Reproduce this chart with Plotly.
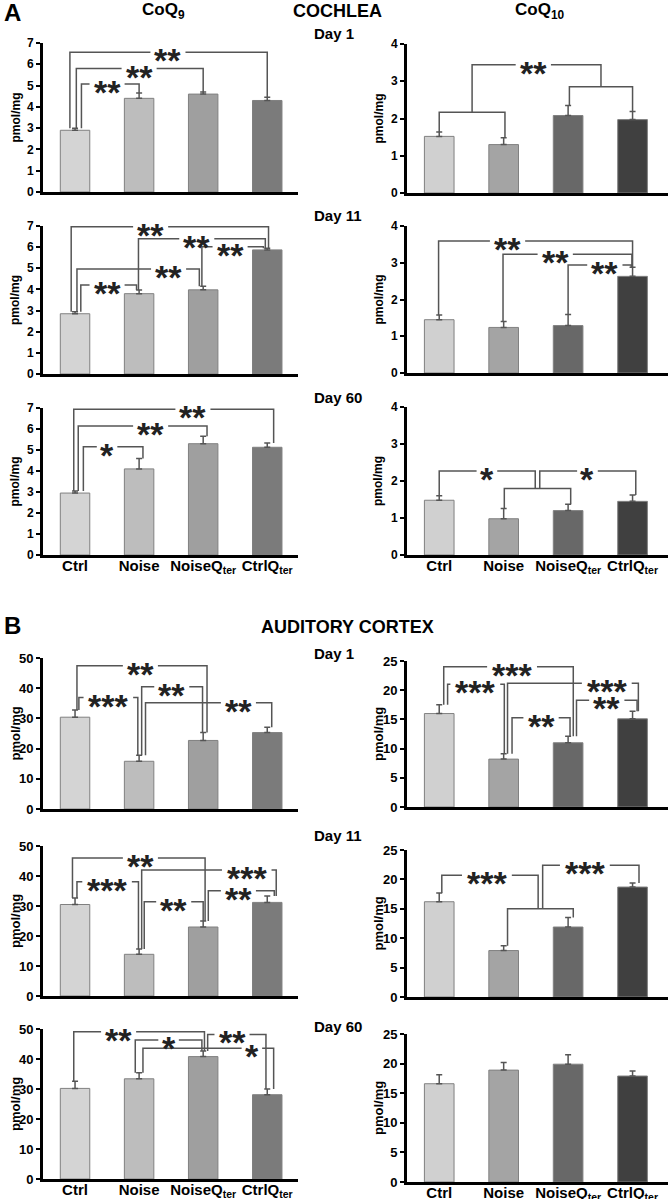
import plotly.graph_objects as go

W, H = 670, 1199

groups = ["Ctrl", "Noise", "NoiseQ<sub>ter</sub>", "CtrlQ<sub>ter</sub>"]
days = ["Day 1", "Day 11", "Day 60"]

# CoQ9 / CoQ10 (pmol/mg), bar height and upper SEM
coq9_cochlea_d1 = [2.9, 4.4, 4.6, 4.3]
coq9_cochlea_d1_err = [0.1, 0.25, 0.1, 0.15]
coq9_cochlea_d11 = [2.85, 3.8, 3.98, 5.87]
coq9_cochlea_d11_err = [0.1, 0.17, 0.17, 0.08]
coq9_cochlea_d60 = [2.95, 4.1, 5.3, 5.13]
coq9_cochlea_d60_err = [0.1, 0.5, 0.35, 0.2]

coq10_cochlea_d1 = [1.52, 1.3, 2.08, 1.97]
coq10_cochlea_d1_err = [0.12, 0.18, 0.27, 0.22]
coq10_cochlea_d11 = [1.45, 1.24, 1.29, 2.63]
coq10_cochlea_d11_err = [0.13, 0.16, 0.3, 0.25]
coq10_cochlea_d60 = [1.48, 0.98, 1.2, 1.45]
coq10_cochlea_d60_err = [0.12, 0.28, 0.17, 0.17]

coq9_cortex_d1 = [30.4, 15.8, 22.7, 25.3]
coq9_cortex_d1_err = [2.4, 2.0, 2.6, 1.8]
coq9_cortex_d11 = [30.5, 13.9, 23.0, 31.2]
coq9_cortex_d11_err = [2.2, 1.8, 2.0, 2.1]
coq9_cortex_d60 = [30.2, 33.4, 40.8, 28.1]
coq9_cortex_d60_err = [2.4, 2.0, 1.9, 1.9]

coq10_cortex_d1 = [16.0, 8.2, 11.0, 15.1]
coq10_cortex_d1_err = [1.5, 0.9, 1.1, 1.3]
coq10_cortex_d11 = [16.2, 7.9, 11.9, 18.7]
coq10_cortex_d11_err = [1.5, 0.8, 1.6, 0.7]
coq10_cortex_d60 = [16.6, 18.9, 19.9, 17.9]
coq10_cortex_d60_err = [1.5, 1.3, 1.6, 0.85]

# significance brackets: (left leg, right leg, level, stars, stars x)
# a leg is a group position, or (k, dx) = rising from bracket k of the same panel
sig_coq9_cochlea_d1 = [(-0.08, 3.0, 6.56, "**", 1.45), (0.02, 2.0, 5.8, "**", 1.0),
                       (0.1, 1.0, 5.07, "**", 0.5)]
sig_coq9_cochlea_d11 = [(-0.06, 3.02, 6.96, "**", 1.18), (0.99, 2.97, 6.4, "**", 1.9),
                        (1.98, 2.94, 6.02, "**", 2.42), (0.03, 1.94, 4.97, "**", 1.46),
                        (0.09, 0.96, 4.21, "**", 0.5)]
sig_coq9_cochlea_d60 = [(-0.02, 3.1, 6.94, "**", 1.84), (0.05, 2.06, 6.14, "**", 1.18),
                        (0.13, 1.06, 5.16, "*", 0.5)]
sig_coq10_cochlea_d1 = [(0.0, 1.02, 2.17, "", None), (2.02, 3.0, 2.85, "", None),
                        ((0, 0), (1, 0), 3.44, "**", 1.46)]
sig_coq10_cochlea_d11 = [(-0.01, 3.0, 3.59, "**", 1.06), (0.99, 2.99, 3.23, "**", 1.8),
                         (2.0, 2.98, 2.94, "**", 2.57)]
sig_coq10_cochlea_d60 = [(1.01, 2.04, 1.8, "", None), (0.0, (0, -0.035), 2.27, "*", 0.74),
                         ((0, 0.035), 3.05, 2.27, "*", 2.3)]
sig_coq9_cortex_d1 = [(0.03, 2.06, 47.4, "**", 1.02), (1.04, 1.99, 40.5, "**", 1.51),
                      (0.06, 0.98, 36.9, "***", 0.52), (1.1, 3.07, 35.2, "**", 2.55)]
sig_coq9_cortex_d11 = [(-0.04, 2.03, 46.0, "**", 1.02), (1.04, 3.14, 42.0, "***", 2.68),
                       (0.03, 0.99, 38.1, "***", 0.5), (2.08, 3.11, 35.1, "**", 2.55),
                       (1.08, 2.0, 31.4, "**", 1.54)]
sig_coq9_cortex_d60 = [(-0.02, 2.02, 49.1, "**", 0.68), (2.07, 2.98, 48.2, "**", 2.45),
                       (0.94, 1.98, 46.3, "*", 1.46), (1.06, 3.1, 43.6, "*", 2.76)]
sig_coq10_cortex_d1 = [(0.07, 2.08, 24.0, "***", 1.13), (0.13, 1.01, 21.0, "***", 0.56),
                       (1.06, 3.09, 21.2, "***", 2.6), (2.13, 3.07, 18.3, "**", 2.6),
                       (1.13, 2.03, 15.3, "**", 1.58)]
sig_coq10_cortex_d11 = [(1.06, 2.08, 15.0, "", None), (0.04, (0, -0.035), 20.7, "***", 0.74),
                        ((0, 0.035), 3.1, 22.4, "***", 2.26)]
sig_coq10_cortex_d60 = []

colors_q9 = ["#d4d4d4", "#bdbdbd", "#9f9f9f", "#7b7b7b"]
colors_q10 = ["#d0d0d0", "#a4a4a4", "#686868", "#404040"]

# (values, errors, brackets, column, top px, bottom px, ymax, dtick)
panels = [
    (coq9_cochlea_d1, coq9_cochlea_d1_err, sig_coq9_cochlea_d1, 0, 43, 192, 7, 1),
    (coq10_cochlea_d1, coq10_cochlea_d1_err, sig_coq10_cochlea_d1, 1, 44, 193, 4, 1),
    (coq9_cochlea_d11, coq9_cochlea_d11_err, sig_coq9_cochlea_d11, 0, 226, 374, 7, 1),
    (coq10_cochlea_d11, coq10_cochlea_d11_err, sig_coq10_cochlea_d11, 1, 226, 373, 4, 1),
    (coq9_cochlea_d60, coq9_cochlea_d60_err, sig_coq9_cochlea_d60, 0, 408, 555, 7, 1),
    (coq10_cochlea_d60, coq10_cochlea_d60_err, sig_coq10_cochlea_d60, 1, 407, 555, 4, 1),
    (coq9_cortex_d1, coq9_cortex_d1_err, sig_coq9_cortex_d1, 0, 658, 809, 50, 10),
    (coq10_cortex_d1, coq10_cortex_d1_err, sig_coq10_cortex_d1, 1, 661, 807, 25, 5),
    (coq9_cortex_d11, coq9_cortex_d11_err, sig_coq9_cortex_d11, 0, 846, 996, 50, 10),
    (coq10_cortex_d11, coq10_cortex_d11_err, sig_coq10_cortex_d11, 1, 850, 997, 25, 5),
    (coq9_cortex_d60, coq9_cortex_d60_err, sig_coq9_cortex_d60, 0, 1029, 1179, 50, 10),
    (coq10_cortex_d60, coq10_cortex_d60_err, sig_coq10_cortex_d60, 1, 1034, 1182, 25, 5),
]

FONT = "Liberation Sans, Arial, sans-serif"
col_x = [(43, 298, 3.48), (407, 668, 3.55)]
LINE = "#555555"

fig = go.Figure()
layout = {}
shapes = []
annotations = []

for k, (vals, errs, sigs, col, top, bot, ymax, dtick) in enumerate(panels):
    n = "" if k == 0 else str(k + 1)
    xa, ya = "x" + n, "y" + n
    colors = colors_q9 if col == 0 else colors_q10
    fig.add_trace(go.Bar(
        x=[0, 1, 2, 3], y=vals, width=0.46, xaxis=xa, yaxis=ya,
        marker=dict(color=colors, line=dict(color="#808080", width=1)),
        error_y=dict(type="data", array=errs, arrayminus=[0] * 4, symmetric=False,
                     color=LINE, thickness=1.5, width=3),
        showlegend=False,
    ))
    x0, x1, rmax = col_x[col]
    bottom_row = k >= 10 or k in (4, 5)
    layout["xaxis" + n] = dict(
        domain=[x0 / W, x1 / W], anchor=ya, range=[-0.5, rmax], automargin=False,
        showline=True, linewidth=3, linecolor="black", showgrid=False, zeroline=False,
        ticks="", tickvals=[0, 1, 2, 3], ticktext=groups, showticklabels=bottom_row,
        tickangle=0, ticklabelstandoff=-5,
        tickfont=dict(family=FONT, size=15, color="black", weight="bold"),
    )
    layout["yaxis" + n] = dict(
        domain=[1 - bot / H, 1 - top / H], anchor=xa, range=[0, ymax], dtick=dtick,
        automargin=False,
        showline=True, linewidth=3, linecolor="black", showgrid=False, zeroline=False,
        ticks="outside", ticklen=4, tickwidth=2, tickcolor="black",
        tickfont=dict(family=FONT, size=12 if ymax < 10 else 13, color="black", weight="bold"),
    )
    # y axis title
    annotations.append(dict(
        text="pmol/mg", textangle=-90, xref="paper", yref="paper",
        x=(15 if col == 0 else 378) / W, y=1 - (top + bot) / 2 / H, showarrow=False,
        xanchor="center", yanchor="middle",
        font=dict(family=FONT, size=12 if ymax < 10 else 13, color="black", weight="bold"),
    ))

    # significance brackets
    done = []
    for left, right, lvl, stars, sx in sigs:
        legs = []
        for spec in (left, right):
            if isinstance(spec, tuple):
                j, dx = spec
                a, b, l0 = done[j]
                legs.append(((a + b) / 2 + dx, l0))
            else:
                i = int(round(spec))
                legs.append((spec, vals[i] + errs[i]))
        (lx, ly), (rx, ry) = legs
        done.append((lx, rx, lvl))
        if stars:
            g = (len(stars) * 14.5 + 6) / 2 / 64
            path = (f"M{lx},{ly} L{lx},{lvl} L{sx - g},{lvl} "
                    f"M{sx + g},{lvl} L{rx},{lvl} L{rx},{ry}")
            annotations.append(dict(
                text=stars, x=sx, y=lvl, xref=xa, yref=ya, showarrow=False, yshift=-8,
                font=dict(family=FONT, size=34, color="#222222", weight="bold"),
            ))
        else:
            path = f"M{lx},{ly} L{lx},{lvl} L{rx},{lvl} L{rx},{ry}"
        shapes.append(dict(type="path", path=path, xref=xa, yref=ya,
                           line=dict(color=LINE, width=1.5)))

# headings
def label(text, x, y, size, anchor="center"):
    annotations.append(dict(
        text=text, x=x / W, y=1 - y / H, xref="paper", yref="paper", showarrow=False,
        xanchor=anchor, yanchor="middle",
        font=dict(family=FONT, size=size, color="black", weight="bold"),
    ))

label("A", 2, 12, 24, "left")
label("CoQ<sub>9</sub>", 163, 11, 17)
label("COCHLEA", 337, 11, 18)
label("CoQ<sub>10</sub>", 540, 11, 17)
label("B", 2, 625, 24, "left")
label("AUDITORY CORTEX", 347, 627, 18)
for day, y in zip(days, [33, 215, 397]):
    label(day, 312, y, 15, "left")
for day, y in zip(days, [653, 835, 1026]):
    label(day, 312, y, 15, "left")

fig.update_layout(
    width=W, height=H, margin=dict(l=0, r=0, t=0, b=0, autoexpand=False),
    paper_bgcolor="white", plot_bgcolor="white",
    shapes=shapes, annotations=annotations, **layout,
)

# the page's default body margin would push the figure off the window
fig.write_html("out.html", config={"displayModeBar": False},
               post_script="document.body.style.margin='0';")
